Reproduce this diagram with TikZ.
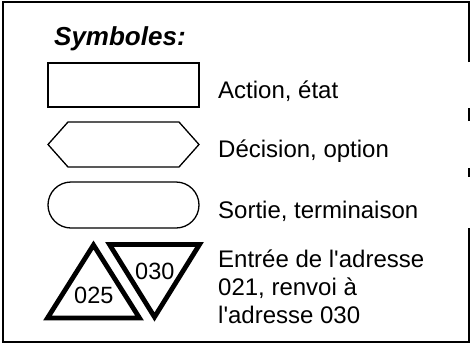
\documentclass[tikz,border=0pt]{standalone}
\usepackage{fontspec}
\setmainfont{Liberation Sans}
\newfontfamily\plainsans{Liberation Sans}
\begin{document}
\begin{tikzpicture}[x=1pt,y=-1pt,
  frameline/.style={line width=1.3pt,black},
  symline/.style={line width=1.3pt,black},
  triline/.style={line width=4.8pt,black,line join=miter},
  lbl/.style={anchor=base west,inner sep=0pt,font=\plainsans\fontsize{24}{27}\selectfont},
  numlbl/.style={anchor=base west,inner sep=0pt,font=\plainsans\fontsize{23.5}{26}\selectfont}]
\useasboundingbox (0,0) rectangle (471,349);
% frame
\draw[frameline] (469,62) -- (469,2) -- (3,2) -- (3,342) -- (469,342) -- (469,228);
\draw[frameline] (469,108) -- (469,121);
\draw[frameline] (469,168) -- (469,177);
% title
\node[anchor=base west,inner sep=0pt,font=\plainsans\fontsize{26}{30}\selectfont\bfseries\itshape] (title) at (54,45) {Symboles:};
% rectangle
\draw[symline] (48,63) rectangle (199,107);
\node[lbl] (action) at (218,98) {Action, état};
% hexagon
\draw[symline] (48,144.5) -- (68,122) -- (179,122) -- (199,144.5) -- (179,167) -- (68,167) -- cycle;
\node[lbl] (decision) at (218,157) {Décision, option};
% stadium
\draw[symline,rounded corners=23pt] (48,182) rectangle (199,228);
\node[lbl] (sortie) at (218,218) {Sortie, terminaison};
% triangles
\draw[triline] (93.5,245) -- (139.5,318) -- (47.5,318) -- cycle;
\draw[triline] (109.5,244.5) -- (199.5,244.5) -- (154.5,317) -- cycle;
\node[numlbl] (n025) at (74,303) {025};
\node[numlbl] (n030) at (135,279) {030};
\node[lbl] (entree1) at (218,267) {Entrée de l'adresse};
\node[lbl] (entree2) at (218,295) {021, renvoi à};
\node[lbl] (entree3) at (218,323) {l'adresse 030};
\end{tikzpicture}
\end{document}
